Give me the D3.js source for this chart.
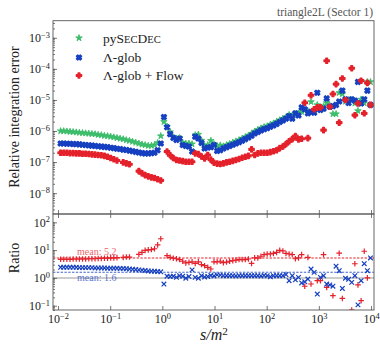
<!DOCTYPE html>
<html>
<head>
<meta charset="utf-8">
<script src="https://cdn.jsdelivr.net/npm/d3@7"></script>
<style>
  body { margin: 0; background: #fff; }
  svg { display: block; font-family: 'Liberation Serif', 'DejaVu Serif', serif; }
</style>
</head>
<body>
<svg></svg>
<script>
// log10(s/m^2) of each sample point
const logS = [
  -1.95, -1.89, -1.83, -1.77, -1.71, -1.65, -1.59, -1.53, -1.47, -1.41,
  -1.35, -1.29, -1.23, -1.17, -1.11, -1.05, -0.99, -0.93, -0.87, -0.81,
  -0.75, -0.69, -0.63, -0.57, -0.51, -0.45, -0.39, -0.33, -0.27, -0.21,
  -0.15, -0.09, -0.03, 0.03, 0.09, 0.15, 0.21, 0.27, 0.33, 0.39,
  0.45, 0.51, 0.57, 0.63, 0.69, 0.75, 0.81, 0.87, 0.93, 0.99,
  1.05, 1.11, 1.17, 1.23, 1.29, 1.35, 1.41, 1.47, 1.53, 1.59,
  1.65, 1.71, 1.77, 1.83, 1.89, 1.95, 2.01, 2.07, 2.13, 2.19,
  2.25, 2.31, 2.37, 2.43, 2.49, 2.55, 2.61, 2.67, 2.73, 2.79,
  2.85, 2.91, 2.97, 3.03, 3.09, 3.15, 3.21, 3.27, 3.33, 3.39,
  3.45, 3.51, 3.57, 3.63, 3.69, 3.75, 3.81, 3.87, 3.93, 3.99
]

// log10 of the relative integration error
const errPySecDec = [
  -6.00, -6.00, -6.01, -6.02, -6.03, -6.04, -6.05, -6.06, -6.07, -6.08,
  -6.09, -6.10, -6.12, -6.13, -6.15, -6.16, -6.18, -6.20, -6.22, -6.24,
  -6.26, -6.29, -6.31, -6.34, -6.37, -6.40, -6.43, -6.45, -6.47, -6.47,
  -6.45, -6.38, -6.16, -5.70, -5.85, -6.03, -6.20, -6.24, -6.22, -6.37,
  -6.40, -6.40, -6.42, -6.13, -6.11, -6.30, -6.48, -6.45, -6.31, -6.42,
  -6.48, -6.46, -6.49, -6.45, -6.41, -6.37, -6.33, -6.29, -6.24, -6.19,
  -6.14, -6.08, -6.01, -5.96, -5.91, -5.87, -5.84, -5.79, -5.75, -5.70,
  -5.65, -5.60, -5.56, -5.48, -5.50, -5.45, -5.44, -5.38, -5.33, -5.36,
  -5.06, -5.35, -5.16, -5.25, -5.20, -5.09, -5.18, -5.45, -5.45, -4.77,
  -4.81, -5.05, -5.00, -5.00, -5.11, -5.35, -4.98, -5.10, -4.42, -4.42
]
const errGlob = [
  -6.40, -6.40, -6.41, -6.41, -6.42, -6.42, -6.43, -6.44, -6.45, -6.46,
  -6.47, -6.48, -6.49, -6.50, -6.51, -6.52, -6.54, -6.55, -6.57, -6.58,
  -6.60, -6.61, -6.63, -6.65, -6.67, -6.69, -6.71, -6.72, -6.72, -6.71,
  -6.70, -6.62, -6.40, -5.55, -5.88, -6.10, -6.22, -6.29, -6.24, -6.45,
  -6.48, -6.50, -6.66, -6.18, -6.24, -6.38, -6.56, -6.53, -6.52, -6.45,
  -6.64, -6.62, -6.56, -6.52, -6.48, -6.44, -6.40, -6.36, -6.31, -6.26,
  -6.21, -6.15, -6.08, -6.03, -5.98, -5.94, -5.91, -5.86, -5.82, -5.77,
  -5.71, -5.66, -5.60, -5.52, -5.60, -5.43, -5.50, -5.24, -5.30, -5.43,
  -5.38, -5.41, -4.77, -5.32, -5.28, -4.95, -5.22, -5.20, -5.16, -5.05,
  -4.70, -4.98, -5.10, -4.98, -5.02, -4.42, -5.11, -4.98, -4.70, -5.16
]
const errFlow = [
  -6.70, -6.70, -6.70, -6.71, -6.71, -6.72, -6.72, -6.73, -6.73, -6.74,
  -6.75, -6.76, -6.77, -6.78, -6.80, -6.83, -6.87, -6.91, -6.95, null,
  -7.01, -7.04, -7.07, null, null, -7.29, -7.36, -7.42, -7.46, -7.49,
  -7.51, -7.55, -7.59, null, -6.66, -6.78, -6.87, -6.93, -6.95, -6.97,
  -6.99, -6.99, -6.99, -6.72, -6.74, -6.82, -6.88, -6.77, -6.92, -7.02,
  -7.05, -7.06, -7.04, -7.01, -6.99, -6.96, -6.93, -6.90, -6.86, -6.83,
  -6.80, -6.59, -6.77, -6.72, -6.70, -6.70, -6.70, -6.68, -6.65, -6.62,
  -6.55, -6.50, -6.42, -6.33, -6.26, -6.16, -6.27, -6.25, -5.09, -6.23,
  -4.85, -5.30, -5.24, -5.24, -5.97, -3.74, -5.22, -4.81, -4.49, -5.73,
  -4.31, -5.00, null, -3.98, -5.49, -5.11, -4.38, -5.43, -4.45, -5.16
]

// log10 of the ratio pySecDec / method
const ratioGlob = [
  0.38, 0.38, 0.38, 0.38, 0.38, 0.38, 0.37, 0.37, 0.37, 0.37,
  0.37, 0.36, 0.36, 0.36, 0.36, 0.35, 0.35, 0.35, 0.35, 0.34,
  0.34, 0.33, 0.32, 0.31, 0.30, 0.29, 0.28, 0.27, 0.25, 0.24,
  0.24, 0.23, 0.22, -0.22, 0.06, 0.05, 0.06, 0.02, 0.08, 0.06,
  -0.01, 0.05, 0.29, 0.02, -0.01, 0.08, 0.03, 0.05, 0.09, 0.07,
  0.11, 0.10, 0.08, 0.08, 0.08, 0.08, 0.07, 0.08, 0.08, 0.08,
  0.08, 0.08, 0.08, 0.08, 0.07, 0.09, 0.08, 0.04, 0.08, 0.08,
  0.08, 0.08, 0.12, -0.10, 0.08, -0.07, 0.02, -0.18, -0.14, -0.04,
  0.32, 0.20, -0.58, 0.02, 0.08, -0.22, -0.25, -0.30, 0.42, 0.26,
  -0.38, -0.01, -0.05, -0.16, 0.08, -0.97, -0.10, 0.51, 0.26, 0.72
]
const ratioFlow = [
  0.67, 0.67, 0.67, 0.67, 0.68, 0.68, 0.68, 0.68, 0.68, 0.69,
  0.69, 0.69, 0.70, 0.70, 0.71, 0.71, 0.72, 0.72, 0.73, null,
  0.74, 0.75, 0.75, null, null, 0.85, 0.92, 0.99, 1.01, 1.02,
  1.05, 1.19, 1.41, null, 0.80, 0.74, 0.71, 0.69, 0.66, 0.60,
  0.54, 0.56, 0.58, 0.52, 0.58, 0.48, 0.44, 0.38, 0.32, 0.58,
  0.58, 0.60, 0.55, 0.57, 0.60, 0.62, 0.64, 0.66, 0.66, 0.66,
  0.68, 0.52, 0.72, 0.72, 0.78, 0.84, 0.86, 0.86, 0.88, 0.92,
  0.99, 0.97, 0.88, 0.86, 0.84, 0.69, 0.72, 0.84, -0.30, 0.74,
  -0.22, null, -0.10, -0.10, 0.84, -0.34, null, -0.64, null, 0.89,
  -0.74, null, null, -1.16, 0.51, -0.25, -0.82, 0.96, 0.00, null
]

const meanGlob = 1.6
const meanFlow = 5.2

const errTicks = [-3, -4, -5, -6, -7, -8]
const ratioTicks = [2, 1, 0, -1]
const sTicks = [-2, -1, 0, 1, 2, 3, 4]

const width = 380
const height = 346
const left = 53
const right = 374
const top1 = 20.7
const mid = 214
const bottom2 = 310

const green = '#3dbd6c'
const blue = '#1640c0'
const red = '#e4212b'
const frameColor = '#555'

const svg = d3.select('svg')
  .attr('width', width)
  .attr('height', height)
  .attr('viewBox', [0, 0, width, height])

const x = d3.scaleLog().domain([10 ** -2.096, 10 ** 4.057]).range([left, right])
const yErr = d3.scaleLog().domain([10 ** -8.67, 10 ** -2.45]).range([mid, top1])
const yRatio = d3.scaleLog().domain([10 ** -1.155, 10 ** 2.3]).range([bottom2, mid])

const defs = svg.append('defs')
defs.append('clipPath').attr('id', 'clipTop')
  .append('rect').attr('x', left).attr('y', top1).attr('width', right - left).attr('height', mid - top1)
defs.append('clipPath').attr('id', 'clipBottom')
  .append('rect').attr('x', left).attr('y', mid).attr('width', right - left).attr('height', bottom2 - mid)

// 10^n labels with a raised exponent
function powerLabel(sel) {
  sel.each(function (d) {
    const e = Math.round(Math.log10(d))
    const t = d3.select(this).text(null)
    t.append('tspan').text('10')
    t.append('tspan').attr('dy', '-0.5em').attr('font-size', '0.7em')
      .text(e < 0 ? '\u2212' + (-e) : String(e))
  })
}

function styleAxis(g) {
  g.select('.domain').remove()
  g.selectAll('line').attr('stroke', frameColor).attr('stroke-width', 0.8)
  g.attr('font-family', null).attr('font-size', 12).attr('fill', '#222')
  g.selectAll('text').attr('fill', '#222')
}

function drawYAxis(scale, exps) {
  svg.append('g')
    .attr('transform', 'translate(' + left + ',0)')
    .call(d3.axisLeft(scale).ticks(10).tickFormat('').tickSize(-2))
    .call(styleAxis)

  svg.append('g')
    .attr('transform', 'translate(' + left + ',0)')
    .call(d3.axisLeft(scale).tickValues(exps.map(e => 10 ** e)).tickSize(-4).tickPadding(3))
    .call(styleAxis)
    .call(g => g.selectAll('text').call(powerLabel))
}

function drawXAxes() {
  const vals = sTicks.map(e => 10 ** e)
  // bottom of the error panel, ticks pointing up
  svg.append('g')
    .attr('transform', 'translate(0,' + mid + ')')
    .call(d3.axisBottom(x).tickValues(vals).tickFormat('').tickSize(-4))
    .call(styleAxis)
  // top of the ratio panel, ticks pointing down
  svg.append('g')
    .attr('transform', 'translate(0,' + mid + ')')
    .call(d3.axisTop(x).tickValues(vals).tickFormat('').tickSize(-4))
    .call(styleAxis)
  // bottom of the ratio panel with labels
  svg.append('g')
    .attr('transform', 'translate(0,' + bottom2 + ')')
    .call(d3.axisBottom(x).tickValues(vals).tickSize(-4))
    .call(styleAxis)
    .call(g => g.selectAll('text').attr('y', 13.3).attr('dy', null).call(powerLabel))
}

const starPath = d3.symbol(d3.symbolStar, 13)()
const fatX = d3.symbol(d3.symbolCross, 17)()
const fatPlus = d3.symbol(d3.symbolCross, 15)()
const plusPath = 'M-2.8,0H2.8M0,-2.8V2.8'
const xPath = 'M-2.3,-2.3L2.3,2.3M-2.3,2.3L2.3,-2.3'

const markerStyles = [
  { shape: starPath, color: green, rot: false, sw: 0.9 },
  { shape: fatX, color: blue, rot: true, sw: 1.3 },
  { shape: fatPlus, color: red, rot: false, sw: 1.4 }
]

function drawErrors(g, exps, m) {
  const pts = logS.map((s, i) => [s, exps[i]]).filter(d => d[1] !== null)
  g.append('g').selectAll('path')
    .data(pts)
    .join('path')
    .attr('d', m.shape)
    .attr('transform', d => 'translate(' + x(10 ** d[0]) + ',' + yErr(10 ** d[1]) + ')' + (m.rot ? ' rotate(45)' : ''))
    .attr('fill', m.color)
    .attr('stroke', m.color)
    .attr('stroke-width', m.sw)
    .attr('stroke-linejoin', 'round')
}

function drawRatios(g, exps, shape, color) {
  const pts = logS.map((s, i) => [s, exps[i]]).filter(d => d[1] !== null)
  g.append('g').selectAll('path')
    .data(pts)
    .join('path')
    .attr('d', shape)
    .attr('transform', d => 'translate(' + x(10 ** d[0]) + ',' + yRatio(10 ** d[1]) + ')')
    .attr('fill', 'none')
    .attr('stroke', color)
    .attr('stroke-width', 1.2)
}

// error panel
const topG = svg.append('g').attr('clip-path', 'url(#clipTop)')
drawErrors(topG, errPySecDec, markerStyles[0])
drawErrors(topG, errGlob, markerStyles[1])
drawErrors(topG, errFlow, markerStyles[2])

// ratio panel
const botG = svg.append('g').attr('clip-path', 'url(#clipBottom)')
botG.append('line')
  .attr('x1', left).attr('x2', right)
  .attr('y1', yRatio(1)).attr('y2', yRatio(1))
  .attr('stroke', '#ccc').attr('stroke-width', 2)
botG.append('line')
  .attr('x1', left).attr('x2', right)
  .attr('y1', yRatio(meanFlow)).attr('y2', yRatio(meanFlow))
  .attr('stroke', red).attr('stroke-width', 1.1).attr('stroke-dasharray', '2.4,1.4')
botG.append('line')
  .attr('x1', left).attr('x2', right)
  .attr('y1', yRatio(meanGlob)).attr('y2', yRatio(meanGlob))
  .attr('stroke', blue).attr('stroke-width', 1.1).attr('stroke-dasharray', '2.4,1.4')
  .attr('opacity', 0.8)
drawRatios(botG, ratioFlow, plusPath, red)
drawRatios(botG, ratioGlob, xPath, blue)

svg.append('text')
  .attr('x', 77).attr('y', yRatio(meanFlow) - 3.5)
  .attr('font-size', 10).attr('fill', red).attr('opacity', 0.7)
  .text('mean: ' + meanFlow)
svg.append('text')
  .attr('x', 77).attr('y', yRatio(meanGlob) + 8.5)
  .attr('font-size', 10).attr('fill', blue).attr('opacity', 0.7)
  .text('mean: ' + meanGlob)

// frames
svg.append('rect').attr('x', left).attr('y', top1).attr('width', right - left).attr('height', mid - top1)
  .attr('fill', 'none').attr('stroke', frameColor).attr('stroke-width', 0.9)
svg.append('rect').attr('x', left).attr('y', mid).attr('width', right - left).attr('height', bottom2 - mid)
  .attr('fill', 'none').attr('stroke', frameColor).attr('stroke-width', 0.9)

drawYAxis(yErr, errTicks)
drawYAxis(yRatio, ratioTicks)
drawXAxes()

// axis titles
svg.append('text')
  .attr('transform', 'translate(19,117) rotate(-90)')
  .attr('text-anchor', 'middle').attr('font-size', 14).attr('fill', '#222')
  .text('Relative integration error')
svg.append('text')
  .attr('transform', 'translate(19,258) rotate(-90)')
  .attr('text-anchor', 'middle').attr('font-size', 14).attr('fill', '#222')
  .text('Ratio')
const xl = svg.append('text')
  .attr('x', 214).attr('y', 340)
  .attr('text-anchor', 'middle').attr('font-size', 16).attr('fill', '#222')
xl.append('tspan').attr('font-style', 'italic').text('s/m')
xl.append('tspan').attr('dy', '-0.45em').attr('font-size', '0.7em').text('2')

svg.append('text')
  .attr('x', 373).attr('y', 15.5)
  .attr('text-anchor', 'end').attr('font-size', 11.5).attr('fill', '#555')
  .text('triangle2L (Sector 1)')

// legend
const legend = svg.append('g')
const rowY = [38, 57.5, 75.5]
markerStyles.forEach((m, i) => {
  legend.append('path')
    .attr('d', m.shape)
    .attr('transform', 'translate(79,' + rowY[i] + ')' + (m.rot ? ' rotate(45)' : ''))
    .attr('fill', m.color).attr('stroke', m.color).attr('stroke-width', m.sw)
    .attr('stroke-linejoin', 'round')
})
const t1 = legend.append('text').attr('x', 103).attr('y', rowY[0] + 4.5).attr('font-size', 13.5).attr('fill', '#222')
t1.append('tspan').text('pyS')
t1.append('tspan').attr('font-size', '0.78em').text('EC')
t1.append('tspan').text('D')
t1.append('tspan').attr('font-size', '0.78em').text('EC')
legend.append('text').attr('x', 103).attr('y', rowY[1] + 4.5).attr('font-size', 13.5).attr('fill', '#222')
  .text('\u039b-glob')
legend.append('text').attr('x', 103).attr('y', rowY[2] + 4.5).attr('font-size', 13.5).attr('fill', '#222')
  .text('\u039b-glob + Flow')
</script>
</body>
</html>
